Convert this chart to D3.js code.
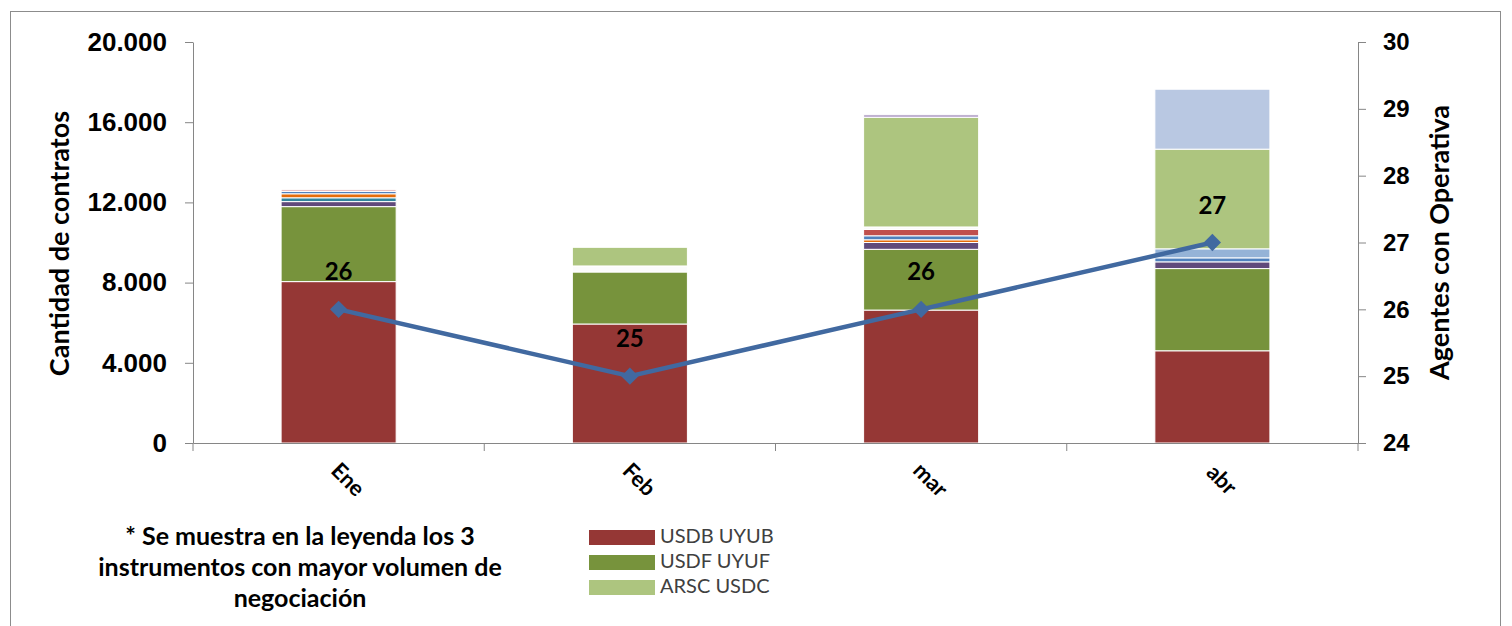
<!DOCTYPE html>
<html>
<head>
<meta charset="utf-8">
<script src="https://cdn.jsdelivr.net/npm/d3@7"></script>
<style>
  body { margin: 0; background: #fff; }
  svg { font-family: Lato, "Open Sans", sans-serif; }
  .axis path, .axis line { stroke: #868686; }
  .axis text { fill: #000; font-weight: bold; font-size: 24px; }
</style>
</head>
<body>
<div id="chart"></div>
<script>
// meses y series (contratos), de abajo hacia arriba
const months = ["Ene", "Feb", "mar", "abr"];
const usdbUyub = [8050, 5935, 6630, 4600];
const usdfUyuf = [3740, 2595, 3030, 4100];
const inst3 = [250, 0, 340, 335];
const inst4 = [190, 0, 0, 0];
const inst5 = [200, 0, 135, 0];
const inst6 = [120, 0, 200, 200];
const inst7 = [0, 0, 0, 450];
const inst8 = [0, 0, 315, 0];
const inst9 = [100, 0, 0, 0];
const inst10 = [0, 300, 125, 0];
const arscUsdc = [0, 930, 5470, 4970];
const inst12 = [0, 0, 130, 0];
const inst13 = [0, 0, 0, 2990];
const agentes = [26, 25, 26, 27];

const leftTicks = [0, 4000, 8000, 12000, 16000, 20000];
const rightTicks = [24, 25, 26, 27, 28, 29, 30];

const seriesKeys = ["USDB UYUB", "USDF UYUF", "inst3", "inst4", "inst5", "inst6", "inst7",
                    "inst8", "inst9", "inst10", "ARSC USDC", "inst12", "inst13"];
const seriesValues = [usdbUyub, usdfUyuf, inst3, inst4, inst5, inst6, inst7,
                      inst8, inst9, inst10, arscUsdc, inst12, inst13];
const seriesColors = ["#953735", "#77933c", "#604a7b", "#31859c", "#e46c0a", "#4f81bd", "#95b3d7",
                      "#c0504d", "#e6b9b8", "#fbfbfb", "#adc57f", "#b3a2c7", "#b9c8e2"];
const legendKeys = ["USDB UYUB", "USDF UYUF", "ARSC USDC"];

const width = 1512;
const height = 626;
const plotLeft = 193, plotRight = 1358, plotTop = 42, plotBottom = 443;

const table = months.map((m, i) => {
  const row = { month: m };
  seriesKeys.forEach((k, j) => row[k] = seriesValues[j][i]);
  return row;
});

const svg = d3.select("#chart")
              .append("svg")
              .attr("width", width)
              .attr("height", height);

// marco
svg.append("rect")
   .attr("x", 10.5)
   .attr("y", 11.5)
   .attr("width", 1490)
   .attr("height", 700)
   .attr("fill", "none")
   .attr("stroke", "#8c8c8c");

const x = d3.scaleBand().domain(months).range([plotLeft, plotRight]);
const y = d3.scaleLinear().domain([0, 20000]).range([plotBottom, plotTop]);
const y2 = d3.scaleLinear().domain([24, 30]).range([plotBottom, plotTop]);
const color = d3.scaleOrdinal().domain(seriesKeys).range(seriesColors);

const barW = x.bandwidth() * 0.395;

const stacked = d3.stack().keys(seriesKeys)(table);

svg.append("g")
   .selectAll("g")
   .data(stacked)
   .enter()
   .append("g")
   .attr("fill", d => color(d.key))
   .selectAll("rect")
   .data(d => d.filter(s => s[1] - s[0] > 0))
   .enter()
   .append("rect")
   .attr("x", d => x(d.data.month) + (x.bandwidth() - barW) / 2)
   .attr("y", d => y(d[1]))
   .attr("width", barW)
   .attr("height", d => y(d[0]) - y(d[1]))
   .attr("stroke", "#fff")
   .attr("stroke-width", 1);

// eje izquierdo
const gLeft = svg.append("g")
   .attr("class", "axis")
   .attr("transform", `translate(${plotLeft},0)`)
   .call(d3.axisLeft(y).tickValues(leftTicks).tickSize(8).tickSizeOuter(0).tickPadding(18)
           .tickFormat(d => d3.format(",")(d).replace(/,/g, ".")));
gLeft.selectAll("text").style("font-size", "26px");

// eje derecho
svg.append("g")
   .attr("class", "axis")
   .attr("transform", `translate(${plotRight},0)`)
   .call(d3.axisRight(y2).tickValues(rightTicks).tickSize(8).tickSizeOuter(0).tickPadding(17)
           .tickFormat(d3.format("d")));

// eje x
const gx = svg.append("g")
   .attr("class", "axis")
   .attr("transform", `translate(0,${plotBottom})`)
   .call(d3.axisBottom(x).tickSize(0).tickSizeOuter(0).tickFormat(""));

gx.selectAll(".sep")
  .data(months.map(m => x(m)).concat([x.range()[1]]))
  .enter()
  .append("line")
  .attr("x1", d => d)
  .attr("x2", d => d)
  .attr("y1", 0)
  .attr("y2", 8)
  .attr("stroke", "#868686");

svg.append("g")
   .selectAll("text")
   .data(months)
   .enter()
   .append("text")
   .attr("transform", d => `translate(${x(d) + x.bandwidth() / 2 + 8},${plotBottom + 38}) rotate(45)`)
   .attr("text-anchor", "middle")
   .attr("dominant-baseline", "middle")
   .style("font-size", "22px")
   .style("font-weight", "bold")
   .text(d => d);

// títulos de ejes
svg.append("text")
   .attr("transform", `translate(69,${(plotTop + plotBottom) / 2 + 1}) rotate(-90)`)
   .attr("text-anchor", "middle")
   .style("font-size", "27px")
   .style("font-weight", "bold")
   .text("Cantidad de contratos");

svg.append("text")
   .attr("transform", `translate(1449,${(plotTop + plotBottom) / 2}) rotate(-90)`)
   .attr("text-anchor", "middle")
   .style("font-size", "27px")
   .style("font-weight", "bold")
   .text("Agentes con Operativa");

// línea de agentes
const cx = (d, i) => x(months[i]) + x.bandwidth() / 2;

svg.append("path")
   .datum(agentes)
   .attr("fill", "none")
   .attr("stroke", "#4169a0")
   .attr("stroke-width", 4.5)
   .attr("stroke-linejoin", "round")
   .attr("d", d3.line().x(cx).y(d => y2(d)));

svg.append("g")
   .selectAll("path")
   .data(agentes)
   .enter()
   .append("path")
   .attr("transform", (d, i) => `translate(${cx(d, i)},${y2(d)})`)
   .attr("d", d3.symbol().type(d3.symbolDiamond2).size(190))
   .attr("fill", "#4169a0");

svg.append("g")
   .selectAll("text")
   .data(agentes)
   .enter()
   .append("text")
   .attr("x", cx)
   .attr("y", d => y2(d) - 29)
   .attr("text-anchor", "middle")
   .style("font-size", "24px")
   .style("font-weight", "bold")
   .text(d => d);

// nota al pie
const note = ["* Se muestra en la leyenda los 3", "instrumentos con mayor volumen de", "negociación"];
svg.append("g")
   .selectAll("text")
   .data(note)
   .enter()
   .append("text")
   .attr("x", 300)
   .attr("y", (d, i) => 545 + i * 31)
   .attr("text-anchor", "middle")
   .style("font-size", "25px")
   .style("font-weight", "bold")
   .text(d => d);

// leyenda
const legend = svg.append("g")
   .selectAll("g")
   .data(legendKeys)
   .enter()
   .append("g")
   .attr("transform", (d, i) => `translate(589,${530 + i * 25})`);

legend.append("rect")
      .attr("width", 66)
      .attr("height", 15)
      .attr("fill", d => color(d));

legend.append("text")
      .attr("x", 71)
      .attr("y", 8)
      .attr("dominant-baseline", "middle")
      .style("font-size", "20px")
      .style("fill", "#404040")
      .text(d => d);
</script>
</body>
</html>
